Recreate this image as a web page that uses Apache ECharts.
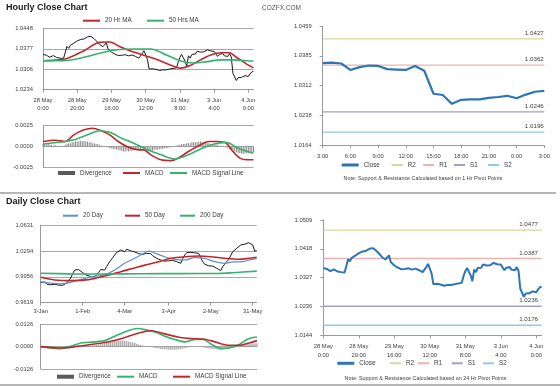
<!DOCTYPE html>
<html><head><meta charset="utf-8">
<script src="https://cdn.jsdelivr.net/npm/echarts@6/dist/echarts.min.js"></script>
<style>html,body{margin:0;padding:0;background:#fff}#c{width:560px;height:386px}</style>
</head><body><div id="c"></div>
<script>
const FONT = 'Liberation Sans, Arial, sans-serif';
const TXT = '#404040';

// ---------- Hourly data (28 May 0:00 .. 4 Jun 3:00) ----------
const hourlyDays = ['28 May', '29 May', '30 May', '31 May', '3 Jun', '4 Jun'];
const hourlyHoursPerDay = [24, 24, 24, 24, 24, 4];
const hourlyTicks = ['28 May 0:00', '28 May 20:00', '29 May 16:00', '30 May 12:00', '31 May 8:00', '3 Jun 4:00', '4 Jun 0:00'];
const hourlyClose = [
  1.0357, 1.0352, 1.0354, 1.0349, 1.0347, 1.0351, 1.0353, 1.0350, 1.0346, 1.0349, 1.0344, 1.0348, 1.0343, 1.0346,
  1.0385, 1.0378, 1.0389, 1.0392, 1.0396, 1.0401, 1.0404, 1.0402, 1.0409, 1.0413,
  1.0411, 1.0416, 1.0418, 1.0415, 1.0420, 1.0417, 1.0411, 1.0405, 1.0399, 1.0392,
  1.0387, 1.0384, 1.0382, 1.0397, 1.0376, 1.0370, 1.0365, 1.0362, 1.0358, 1.0355,
  1.0353, 1.0356, 1.0354, 1.0359, 1.0356, 1.0355, 1.0352, 1.0349, 1.0355, 1.0353,
  1.0350, 1.0347, 1.0344, 1.0350, 1.0360, 1.0370, 1.0366, 1.0340, 1.0306, 1.0309,
  1.0307, 1.0306, 1.0305, 1.0303, 1.0301, 1.0300, 1.0303, 1.0305, 1.0303, 1.0302,
  1.0306, 1.0309, 1.0308, 1.0309, 1.0310, 1.0331, 1.0347, 1.0357, 1.0345, 1.0334,
  1.0315, 1.0352, 1.0344, 1.0357, 1.0355, 1.0358, 1.0368, 1.0362, 1.0365, 1.0368,
  1.0366, 1.0371, 1.0373, 1.0371, 1.0369,
  1.0367, 1.0368, 1.0366, 1.0350, 1.0357, 1.0361, 1.0360, 1.0352, 1.0351, 1.0350,
  1.0360, 1.0348, 1.0291, 1.0288, 1.0266, 1.0276, 1.0277, 1.0277, 1.0281, 1.0283,
  1.0286, 1.0280, 1.0289, 1.0296, 1.0298
];
const hourlyMA20 = [[0,1.0335],[7,1.0337],[14,1.0343],[24,1.0370],[33,1.0399],[39,1.0400],[45,1.0384],[53,1.0365],[61,1.0350],[67,1.0338],[74,1.0321],[80,1.0309],[86,1.0318],[92,1.0338],[98,1.0355],[104,1.0363],[109,1.0363],[113,1.0347],[119,1.0323],[123,1.0310]];
const hourlyMA50 = [[0,1.0335],[14,1.0336],[24,1.0347],[33,1.0361],[43,1.0373],[53,1.0376],[63,1.0376],[72,1.0355],[80,1.0335],[88,1.0327],[96,1.0332],[104,1.0338],[111,1.0338],[119,1.0335],[123,1.0334]];
const hourlyMacd = [[0,0.0006],[7,0.00076],[13,0.0006],[18,0.0014],[24,0.0020],[29,0.0022],[34,0.0019],[39,0.0014],[44,0.0006],[50,-0.0001],[56,-0.0004],[59,-0.0004],[63,-0.0010],[69,-0.0016],[75,-0.0017],[79,-0.0014],[85,-0.0006],[91,0.0001],[97,0.0006],[102,0.0006],[107,0.0004],[111,-0.0006],[115,-0.0014],[119,-0.0016],[123,-0.0016]];
const hourlySignal = [[0,0.0003],[13,0.0006],[18,0.0008],[26,0.0014],[33,0.0019],[39,0.0017],[46,0.0010],[54,0.0003],[61,-0.0004],[69,-0.0010],[77,-0.0015],[85,-0.0010],[93,-0.0002],[100,0.0003],[107,0.0005],[114,-0.0002],[123,-0.0008]];
const hourlyDivergence = [
  0.0003,0.0003,0.0002,0.0003,0.0002,0.0002,0.0001,0.0002,0.0001,0.0001,
  0.0001,0.0000,0.0001,0.0002,0.0003,0.0004,0.0004,0.0005,0.0005,0.0006,
  0.0006,0.0006,0.0007,0.0006,0.0007,0.0006,0.0006,0.0005,0.0005,0.0004,
  0.0004,0.0003,0.0003,0.0002,0.0001,0.0001,0.0000,-0.0001,-0.0001,-0.0002,
  -0.0002,-0.0003,-0.0003,-0.0004,-0.0004,-0.0005,-0.0005,-0.0006,-0.0006,-0.0005,
  -0.0006,-0.0005,-0.0005,-0.0004,-0.0004,-0.0004,-0.0003,-0.0003,-0.0002,-0.0002,
  -0.0003,-0.0004,-0.0005,-0.0005,-0.0005,-0.0004,-0.0004,-0.0004,-0.0003,-0.0003,
  -0.0003,-0.0002,-0.0002,-0.0002,-0.0001,-0.0001,0.0000,0.0001,0.0001,0.0002,
  0.0002,0.0003,0.0003,0.0003,0.0004,0.0004,0.0004,0.0005,0.0005,0.0005,
  0.0005,0.0006,0.0006,0.0005,0.0005,0.0005,0.0004,0.0004,0.0003,0.0003,
  0.0003,0.0002,0.0002,0.0001,0.0001,0.0001,0.0000,-0.0001,-0.0002,-0.0003,
  -0.0004,-0.0005,-0.0006,-0.0007,-0.0008,-0.0008,-0.0008,-0.0009,-0.0008,-0.0008,
  -0.0008,-0.0008,-0.0007,-0.0007
];
const hourlyPriceTicks = ['1.0234', '1.0306', '1.0377', '1.0448'];
const hourlyMacdTicks = ['-0.0025', '0.0000', '0.0025'];

// ---------- Pivot panels ----------
const pivotNames = ['R2', 'R1', 'S1', 'S2'];
const pivot1Values = [1.0427, 1.0362, 1.0246, 1.0196];
const pivot24Values = [1.0477, 1.0387, 1.0236, 1.0176];
const pivot1Ticks = ['1.0164', '1.0238', '1.0312', '1.0385', '1.0459'];
const pivot24Ticks = ['1.0144', '1.0236', '1.0327', '1.0418', '1.0509'];
const pivot1HourCount = 25;

// ---------- Daily data (3 Jan .. 4 Jun, weekdays) ----------
const monthNames = ['Jan', 'Feb', 'Mar', 'Apr', 'May', 'Jun'];
const dailyStart = [2013, 0, 3];
const dailyEnd = [2013, 5, 4];
const dailyTicks = ['3-Jan', '1-Feb', '4-Mar', '3-Apr', '2-May', '31-May'];
const dailyClose = [
  0.9880,0.9872,0.9890,0.9861,0.9866,0.9852,0.9870,0.9858,0.9840,0.9848,
  0.9830,0.9845,0.9838,0.9875,0.9905,0.9940,0.9998,1.0045,1.0068,1.0050,
  1.0058,1.0010,0.9990,0.9975,0.9995,0.9962,0.9970,0.9958,0.9985,1.0012,
  1.0050,1.0030,1.0045,1.0090,1.0135,1.0170,1.0205,1.0240,1.0275,1.0265,
  1.0305,1.0290,1.0282,1.0315,1.0300,1.0295,1.0285,1.0280,1.0270,1.0258,
  1.0262,1.0248,1.0240,1.0262,1.0270,1.0258,1.0230,1.0210,1.0197,1.0185,
  1.0175,1.0168,1.0160,1.0153,1.0165,1.0175,1.0170,1.0160,1.0153,1.0145,
  1.0132,1.0190,1.0240,1.0270,1.0262,1.0275,1.0262,1.0268,1.0258,1.0262,
  1.0240,1.0153,1.0120,1.0110,1.0100,1.0088,1.0095,1.0075,1.0067,1.0050,
  1.0036,1.0088,1.0120,1.0153,1.0180,1.0197,1.0283,1.0300,1.0327,1.0350,
  1.0371,1.0393,1.0380,1.0371,1.0400,1.0414,1.0371,1.0290,1.0298
];
const daily20 = [[0,0.9890],[10,0.9865],[18,0.9905],[24,0.9950],[32,0.9985],[37,1.0045],[42,1.0132],[47,1.0197],[50,1.0240],[54,1.0290],[57,1.0265],[62,1.0218],[67,1.0184],[72,1.0175],[77,1.0205],[82,1.0197],[87,1.0153],[92,1.0132],[96,1.0150],[101,1.0153],[105,1.0180],[108,1.0192]];
const daily50 = [[0,0.9950],[7,0.9915],[15,0.9906],[24,0.9920],[32,0.9967],[40,1.0023],[49,1.0088],[54,1.0120],[59,1.0153],[65,1.0197],[72,1.0218],[79,1.0227],[85,1.0218],[92,1.0197],[99,1.0184],[104,1.0197],[108,1.0212]];
const daily200 = [[0,1.0002],[15,0.9995],[30,0.9993],[50,0.9996],[70,0.9998],[88,1.0000],[96,1.0010],[108,1.0030]];
const dailyMacd = [[0,0],[9,-0.0011],[15,0.0002],[20,0.0021],[27,0.0027],[32,0.0034],[37,0.0059],[42,0.0083],[48,0.0102],[52,0.0096],[57,0.0083],[62,0.0059],[67,0.0040],[72,0.0027],[77,0.0040],[81,0.0040],[85,0.0015],[90,-0.0011],[94,-0.0008],[99,0.0011],[103,0.0040],[107,0.0053],[108,0.0053]];
const dailySignal = [[0,0],[9,-0.0008],[15,-0.0004],[24,0.0011],[32,0.0023],[40,0.0045],[49,0.0077],[55,0.0090],[62,0.0072],[69,0.0053],[75,0.0045],[81,0.0043],[87,0.0027],[94,0.0008],[99,0.0008],[104,0.0021],[108,0.0034]];
const dailyDivergence = [
  0,-0.0001,-0.0002,-0.0002,-0.0003,-0.0003,-0.0003,-0.0003,-0.0002,-0.0002,
  -0.0001,-0.0001,0,0.0002,0.0004,0.0006,0.0008,0.0010,0.0011,0.0011,
  0.0010,0.0009,0.0008,0.0008,0.0007,0.0006,0.0007,0.0008,0.0010,0.0012,
  0.0014,0.0016,0.0019,0.0022,0.0025,0.0028,0.0030,0.0032,0.0034,0.0035,
  0.0035,0.0034,0.0033,0.0031,0.0029,0.0026,0.0023,0.0020,0.0016,0.0012,
  0.0009,0.0006,0.0003,0.0001,-0.0001,-0.0003,-0.0005,-0.0007,-0.0009,-0.0011,
  -0.0013,-0.0014,-0.0015,-0.0016,-0.0017,-0.0018,-0.0018,-0.0017,-0.0016,-0.0015,
  -0.0013,-0.0011,-0.0009,-0.0006,-0.0004,-0.0002,0,0.0001,0.0001,0,
  -0.0002,-0.0004,-0.0006,-0.0008,-0.0010,-0.0012,-0.0014,-0.0015,-0.0016,-0.0016,
  -0.0016,-0.0015,-0.0013,-0.0011,-0.0009,-0.0006,-0.0003,0,0.0003,0.0006,
  0.0009,0.0011,0.0013,0.0015,0.0016,0.0017,0.0018,0.0019,0.0019
];
const dailyPriceTicks = ['0.9619', '0.9956', '1.0294', '1.0631'];
const dailyMacdTicks = ['-0.0126', '0.0000', '0.0126'];

// ---------- Build categories ----------
const hourlyCats = [];
hourlyDays.forEach((d, k) => { for (let h = 0; h < hourlyHoursPerDay[k]; h++) hourlyCats.push(d + ' ' + h + ':00'); });
const pivot1Cats = hourlyCats.slice(-pivot1HourCount);
const pivot1Close = hourlyClose.slice(-pivot1HourCount);
const dailyCats = [];
{
  const d = new Date(Date.UTC(dailyStart[0], dailyStart[1], dailyStart[2]));
  const end = Date.UTC(dailyEnd[0], dailyEnd[1], dailyEnd[2]);
  while (d.getTime() <= end) {
    const wd = d.getUTCDay();
    if (wd !== 0 && wd !== 6) dailyCats.push(d.getUTCDate() + '-' + monthNames[d.getUTCMonth()]);
    d.setUTCDate(d.getUTCDate() + 1);
  }
}

// ---------- Helpers ----------
function nearestLabel(ticks, v) {
  let best = ticks[0], bd = Infinity;
  ticks.forEach(t => { const dd = Math.abs(Number(t) - v); if (dd < bd) { bd = dd; best = t; } });
  return best;
}
function valAxis(gridIndex, ticks, extra) {
  const nums = ticks.map(Number);
  const n = nums.length, min = nums[0];
  const interval = +((nums[n - 1] - min) / (n - 1)).toFixed(6);
  const max = +(min + interval * (n - 1)).toFixed(6);
  const base = {
    type: 'value', gridIndex, min, max, interval,
    axisLabel: { formatter: v => nearestLabel(ticks, v), fontSize: 5.8, color: TXT, fontFamily: FONT, margin: 10 },
    axisLine: { show: true, lineStyle: { color: '#9a9a9a', width: 1 } },
    axisTick: { show: false },
    splitLine: { show: true, lineStyle: { color: '#a8a8a8', width: 1 } }
  };
  return echarts.util.merge(base, extra || {}, true);
}
function catAxis(gridIndex, data, extra) {
  const base = {
    type: 'category', gridIndex, data, boundaryGap: false,
    axisLine: { show: true, onZero: false, lineStyle: { color: '#9a9a9a', width: 1 } },
    axisTick: { show: false },
    axisLabel: { show: false, fontSize: 5.8, color: TXT, fontFamily: FONT, lineHeight: 8.5 },
    splitLine: { show: false }
  };
  return echarts.util.merge(base, extra || {}, true);
}
function line(name, xi, data, color, width, extra) {
  return Object.assign({
    name, type: 'line', xAxisIndex: xi, yAxisIndex: xi, data, color,
    showSymbol: false, symbol: 'none', lineStyle: { color, width }, z: 3, silent: true
  }, extra || {});
}
function bars(name, xi, data, color) {
  return { name, type: 'bar', xAxisIndex: xi, yAxisIndex: xi, data, color, barWidth: 1, itemStyle: { color }, silent: true, z: 2 };
}
function level(name, xi, cats, value, color, offsetX) {
  const data = cats.map(() => value);
  return line(name, xi, data, color, 1.4, {
    z: 2,
    markPoint: {
      silent: true, symbol: 'circle', symbolSize: 1,
      itemStyle: { color: 'rgba(0,0,0,0)' },
      label: { show: true, position: 'top', distance: 2, offset: [offsetX, 0], fontSize: 6.2, color: TXT, fontFamily: FONT, formatter: value.toFixed(4) },
      data: [{ coord: [cats.length - 1, value] }]
    }
  });
}
function legendItem(name, left, cy, color, w, h) {
  return {
    left, top: cy - 4, padding: 0, itemGap: 0, itemWidth: w || 17, itemHeight: h || 2,
    selectedMode: false, icon: 'rect',
    textStyle: { fontSize: 6.3, color: TXT, fontFamily: FONT },
    data: [{ name, icon: 'rect', itemStyle: { color, borderWidth: 0, opacity: 1 } }]
  };
}

const RED = '#c0272d', GREEN = '#34b36f', BLUE20 = '#5b93c9', DIVC = '#8a8a8a', DIVL = '#5a5a5a';
const CLOSE = '#2e75b6';
const pivotColors = ['#d6d6a4', '#e8b5ae', '#a59fc2', '#92cbe0'];

const hourlyShow = (i, v) => hourlyTicks.includes(v);
const dailyShow = (i, v) => dailyTicks.includes(v);
const twoLine = v => v.replace(/ (\d+:\d+)$/, '\n$1');

const xAxes = [
  catAxis(0, hourlyCats, { axisTick: { show: true, interval: hourlyShow, length: 3, lineStyle: { color: '#9a9a9a' } }, axisLabel: { show: true, interval: hourlyShow, formatter: twoLine, margin: 6 } }),
  catAxis(1, hourlyCats, { axisLine: { show: false } }),
  catAxis(2, dailyCats, { axisTick: { show: true, interval: dailyShow, length: 3, lineStyle: { color: '#9a9a9a' } }, axisLabel: { show: true, interval: dailyShow, margin: 4 } }),
  catAxis(3, dailyCats, { axisLine: { show: false } }),
  catAxis(4, pivot1Cats, { axisTick: { show: true, interval: 2, length: 3, lineStyle: { color: '#9a9a9a' } }, axisLabel: { show: true, interval: 2, formatter: v => v.split(' ').pop(), margin: 7 } }),
  catAxis(5, hourlyCats, { axisTick: { show: true, interval: hourlyShow, length: 3, lineStyle: { color: '#9a9a9a' } }, axisLabel: { show: true, interval: hourlyShow, formatter: twoLine, margin: 7 } })
];
const yAxes = [
  valAxis(0, hourlyPriceTicks, { axisLabel: { margin: 10 } }),
  valAxis(1, hourlyMacdTicks, { axisLabel: { margin: 10 } }),
  valAxis(2, dailyPriceTicks, { axisLabel: { margin: 7.5 } }),
  valAxis(3, dailyMacdTicks, { axisLabel: { margin: 7.5 } }),
  valAxis(4, pivot1Ticks, { axisLabel: { margin: 11 }, axisTick: { show: true, length: 3, lineStyle: { color: '#9a9a9a' } }, splitLine: { show: false } }),
  valAxis(5, pivot24Ticks, { axisLabel: { margin: 11 }, axisTick: { show: true, length: 3, lineStyle: { color: '#9a9a9a' } }, splitLine: { show: false } })
];

const series = [
  line('Hourly', 0, hourlyClose, '#1a1a1a', 1, { z: 2 }),
  line('20 Hr MA', 0, hourlyMA20, RED, 1.6, { smooth: 0.3 }),
  line('50 Hrs MA', 0, hourlyMA50, GREEN, 1.6, { smooth: 0.3 }),
  bars('Divergence', 1, hourlyDivergence, DIVC),
  line('MACD', 1, hourlyMacd, RED, 1.6, { smooth: 0.3 }),
  line('MACD Signal Line', 1, hourlySignal, GREEN, 1.6, { smooth: 0.3 }),
  line('Daily', 2, dailyClose, '#1a1a1a', 1, { z: 2 }),
  line('20 Day', 2, daily20, BLUE20, 1.2, { smooth: 0.3 }),
  line('50 Day', 2, daily50, RED, 1.6, { smooth: 0.3 }),
  line('200 Day', 2, daily200, GREEN, 1.6, { smooth: 0.3 }),
  bars('Divergence', 3, dailyDivergence, DIVC),
  line('MACD', 3, dailyMacd, GREEN, 1.6, { smooth: 0.3 }),
  line('MACD Signal Line', 3, dailySignal, RED, 1.6, { smooth: 0.3 }),
  line('Close', 4, pivot1Close, CLOSE, 2.2, { z: 4 }),
  line('Close', 5, hourlyClose, CLOSE, 2, { z: 4 })
];
pivotNames.forEach((nm, k) => {
  series.push(level(nm, 4, pivot1Cats, pivot1Values[k], pivotColors[k], -10));
  series.push(level(nm, 5, hourlyCats, pivot24Values[k], pivotColors[k], -13));
});

const legends = [
  legendItem('20 Hr MA', 83, 21.7, RED),
  legendItem('50 Hrs MA', 147, 21.7, GREEN),
  legendItem('Divergence', 58, 174, DIVL, 17, 4),
  legendItem('MACD', 123, 174, RED),
  legendItem('MACD Signal Line', 170, 174, GREEN),
  legendItem('20 Day', 63, 216.7, BLUE20, 15),
  legendItem('50 Day', 125, 216.7, RED, 15),
  legendItem('200 Day', 180, 216.7, GREEN, 15),
  legendItem('Divergence', 57, 377.7, DIVL, 17, 4),
  legendItem('MACD', 117, 377.7, GREEN),
  legendItem('MACD Signal Line', 173, 377.7, RED),
  legendItem('Close', 341.7, 166, CLOSE, 17, 3),
  legendItem('R2', 391.7, 166, pivotColors[0], 11),
  legendItem('R1', 423.3, 166, pivotColors[1], 11),
  legendItem('S1', 454, 166, pivotColors[2], 11),
  legendItem('S2', 488, 166, pivotColors[3], 11),
  legendItem('Close', 337.3, 364.3, CLOSE, 17, 3),
  legendItem('R2', 390, 364.3, pivotColors[0], 11),
  legendItem('R1', 418, 364.3, pivotColors[1], 11),
  legendItem('S1', 451.7, 364.3, pivotColors[2], 11),
  legendItem('S2', 483, 364.3, pivotColors[3], 11)
];

const chart = echarts.init(document.getElementById('c'), null, { renderer: 'canvas' });
chart.setOption({
  animation: false,
  backgroundColor: '#fff',
  textStyle: { fontFamily: FONT },
  title: [
    { text: 'Hourly Close Chart', left: 6, top: 3.5, padding: 0, textStyle: { fontSize: 9, fontWeight: 'bold', color: '#1a1a1a', fontFamily: FONT } },
    { text: 'COZFX.COM', left: 262, top: 5, padding: 0, textStyle: { fontSize: 6.5, fontWeight: 'normal', color: '#555', fontFamily: FONT } },
    { text: 'Daily Close Chart', left: 6, top: 197.5, padding: 0, textStyle: { fontSize: 9, fontWeight: 'bold', color: '#1a1a1a', fontFamily: FONT } }
  ],
  legend: legends,
  grid: [
    { left: 43, top: 28.3, width: 210.5, height: 61.4 },
    { left: 43, top: 125.7, width: 210.5, height: 41.6 },
    { left: 40.7, top: 225, width: 216, height: 77.7 },
    { left: 40.7, top: 324.3, width: 216.3, height: 44.7 },
    { left: 322.7, top: 26, width: 221.6, height: 119 },
    { left: 323.3, top: 220, width: 218.3, height: 115.3 }
  ],
  xAxis: xAxes,
  yAxis: yAxes,
  series,
  graphic: [
    { type: 'line', shape: { x1: 0, y1: 193, x2: 556, y2: 193 }, style: { stroke: '#b5b5b5', lineWidth: 2 }, silent: true },
    { type: 'line', shape: { x1: 0, y1: 385, x2: 560, y2: 385 }, style: { stroke: '#b5b5b5', lineWidth: 2 }, silent: true },
    { type: 'text', x: 423, y: 179, silent: true, style: { text: 'Note: Support & Resistance Calculated based on 1 Hr Pivot Points', align: 'center', verticalAlign: 'middle', fontSize: 5.4, fontFamily: FONT, fill: TXT } },
    { type: 'text', x: 425.5, y: 378.3, silent: true, style: { text: 'Note: Support & Resistance Calculated based on 24 Hr Pivot Points', align: 'center', verticalAlign: 'middle', fontSize: 5.4, fontFamily: FONT, fill: TXT } }
  ]
});
</script></body></html>
